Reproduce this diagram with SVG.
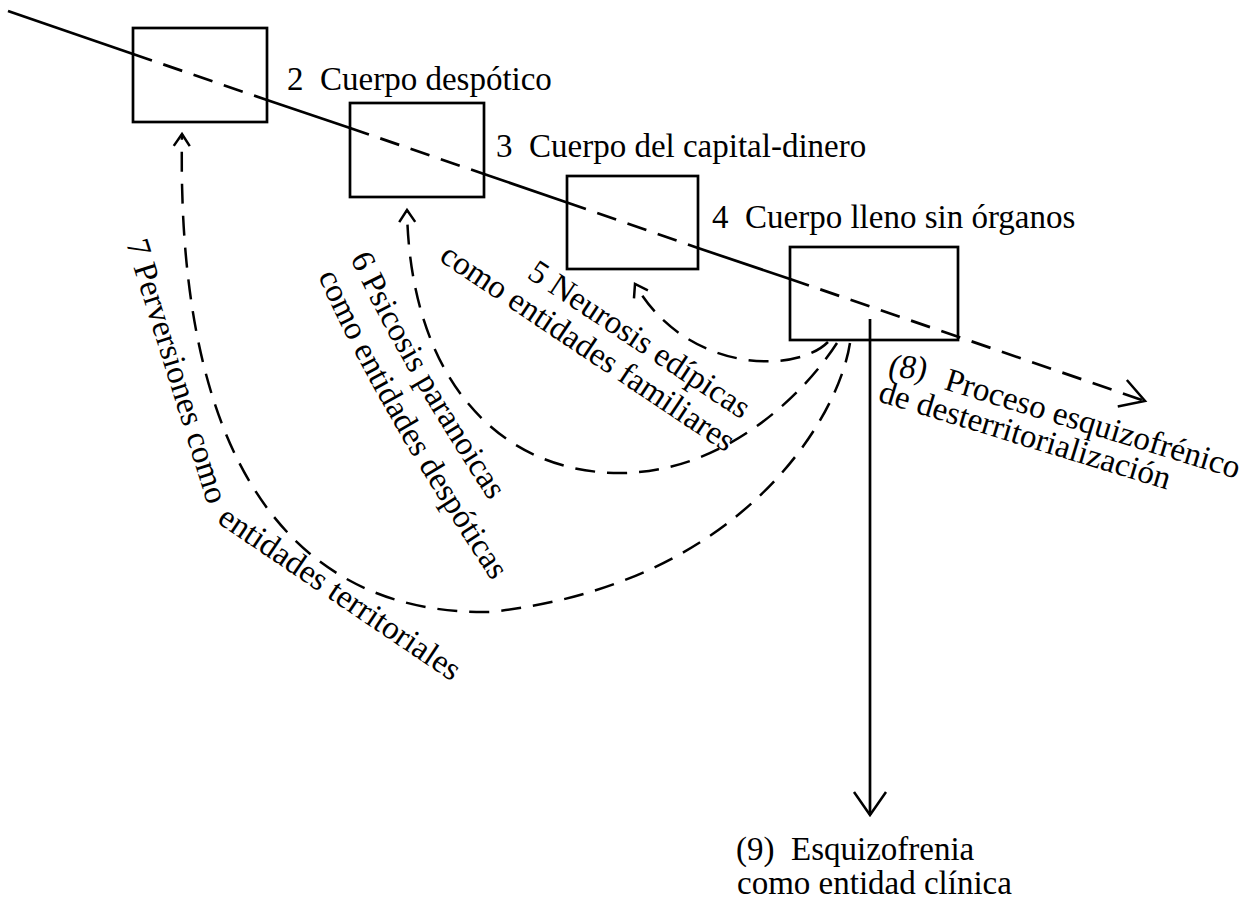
<svg xmlns="http://www.w3.org/2000/svg" width="1247" height="903" viewBox="0 0 1247 903">
<style>
.t{font-family:"Liberation Serif","Times New Roman",serif;font-size:33px;fill:#000}
.box{fill:none;stroke:#000;stroke-width:2.7}
.solid{fill:none;stroke:#000;stroke-width:2.7}
.dash{fill:none;stroke:#000;stroke-width:2.7;stroke-dasharray:20 12}
.arc{fill:none;stroke:#000;stroke-width:2.5;stroke-dasharray:20 12}
.head{fill:none;stroke:#000;stroke-width:2.5;stroke-dasharray:none}
</style>
<defs>
<marker id="small" markerUnits="userSpaceOnUse" markerWidth="40" markerHeight="40" viewBox="-30 -20 40 40" refX="0" refY="0" orient="auto" overflow="visible"><path class="head" d="M -12 -8 L 0 0 L -12 8"/></marker>
<marker id="big" markerUnits="userSpaceOnUse" markerWidth="60" markerHeight="60" viewBox="-40 -30 60 60" refX="0" refY="0" orient="auto" overflow="visible"><path class="head" d="M -24 -14 L 0 0 L -24 14"/></marker>
<marker id="down" markerUnits="userSpaceOnUse" markerWidth="60" markerHeight="60" viewBox="-40 -30 60 60" refX="0" refY="0" orient="auto" overflow="visible"><path class="head" d="M -23 -16 L 0 0 L -23 16"/></marker>
<path id="p6a" d="M 350 258 Q 400 365 487 497"/>
<path id="p6b" d="M 318 276 Q 372 400 490 578"/>
</defs>

<g id="connectors">
  <path class="solid" d="M 8 11 L 133 54"/>
  <path class="dash" d="M 133 54 L 267 100"/>
  <path class="solid" d="M 267 100 L 350 128"/>
  <path class="dash" d="M 350 128 L 484 174"/>
  <path class="solid" d="M 484 174 L 567 202.5"/>
  <path class="dash" d="M 567 202.5 L 698 248"/>
  <path class="solid" d="M 698 248 L 790 279"/>
  <path class="dash" d="M 790 279 L 1145 401" marker-end="url(#big)"/>
  <path class="solid" d="M 870 319 L 870 815" marker-end="url(#down)"/>
  <path id="arc5" class="arc" d="M 828 342 C 795 375 685 372 635 284" marker-end="url(#small)"/>
  <path id="arc6" class="arc" d="M 837 343 C 800 400 720 473 620 473 C 500 473 410 380 407 210" marker-end="url(#small)"/>
  <path id="arc7" class="arc" d="M 850 343 C 838 420 740 585 490 612 C 320 615 175 500 182 134" marker-end="url(#small)"/>
</g>

<g id="node-2">
  <rect class="box" x="133" y="28" width="134" height="94"/>
  <text class="t" x="287" y="90" xml:space="preserve">2  Cuerpo despótico</text>
</g>
<g id="node-3">
  <rect class="box" x="350" y="103" width="134" height="94"/>
  <text class="t" x="496" y="157" xml:space="preserve">3  Cuerpo del capital-dinero</text>
</g>
<g id="node-4">
  <rect class="box" x="567" y="176" width="131" height="93"/>
  <text class="t" x="712" y="228" xml:space="preserve">4  Cuerpo lleno sin órganos</text>
</g>
<g id="node-body">
  <rect class="box" x="790" y="247" width="168" height="93"/>
</g>

<g id="connector-labels">
  <text class="t" transform="translate(526 277) rotate(33.5)">5 Neurosis edípicas</text>
  <text class="t" transform="translate(438 260) rotate(33.8)">como entidades familiares</text>
  <text class="t"><textPath href="#p6a">6 Psicosis paranoicas</textPath></text>
  <text class="t"><textPath href="#p6b">como entidades despóticas</textPath></text>
  <text class="t" transform="translate(126 243) rotate(72.7)">7 Perversiones como</text>
  <text class="t" transform="translate(216 522) rotate(34.1)">entidades territoriales</text>
</g>

<g id="node-8">
  <text class="t" transform="translate(888 377) rotate(3)" font-style="italic">(8)</text>
  <text class="t" transform="translate(943 389) rotate(17)">Proceso esquizofrénico</text>
  <text class="t" transform="translate(877 401) rotate(17)">de desterritorialización</text>
</g>

<g id="node-9">
  <text class="t" x="736" y="860" xml:space="preserve">(9)  Esquizofrenia</text>
  <text class="t" x="737" y="894">como entidad clínica</text>
</g>
</svg>
